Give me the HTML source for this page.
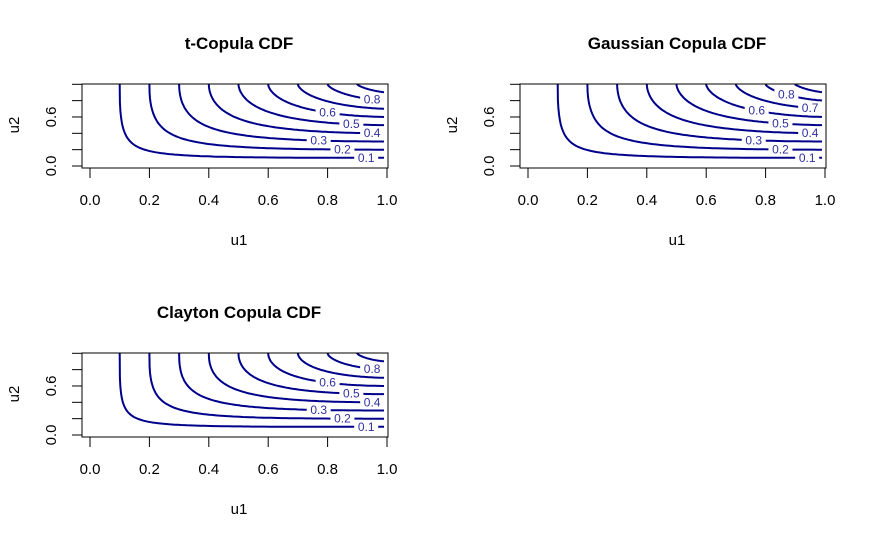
<!DOCTYPE html>
<html><head><meta charset="utf-8"><style>
body{margin:0;background:#fff}
svg{display:block;font-family:"Liberation Sans",Arial,sans-serif}
</style></head><body>
<svg id="chart" width="875" height="540"></svg>
<script>
const levels=[0.1,0.2,0.3,0.4,0.5,0.6,0.7,0.8,0.9];
const xTicks=[0,0.2,0.4,0.6,0.8,1.0];
const xTickLabels=["0.0","0.2","0.4","0.6","0.8","1.0"];
const yTicks=[0,0.2,0.4,0.6,0.8,1.0];
const yTickLabels=["0.0","","","0.6","",""];
const titles=["t-Copula CDF","Gaussian Copula CDF","Clayton Copula CDF"];
const rhos=[0.65,0.62,0.72];
const labelLevels1=[0.1,0.2,0.3,0.4,0.5,0.6,0.8];
const labelPos1=[0.93,0.85,0.77,0.95,0.88,0.80,0.95];
const labelLevels2=[0.1,0.2,0.3,0.4,0.5,0.6,0.7,0.8];
const labelPos2=[0.94,0.85,0.76,0.95,0.85,0.77,0.95,0.87];
const labelLevels3=[0.1,0.2,0.3,0.4,0.5,0.6,0.8];
const labelPos3=[0.93,0.85,0.77,0.95,0.88,0.80,0.95];
const panels=[
 {x0:90,y0:166,labels:labelLevels1,pos:labelPos1,name:"t-copula"},
 {x0:528,y0:166,labels:labelLevels2,pos:labelPos2,name:"gaussian-copula"},
 {x0:90,y0:435,labels:labelLevels3,pos:labelPos3,name:"clayton-copula"}];
const NS="http://www.w3.org/2000/svg";
const svg=document.getElementById('chart');
function mk(t,a,p){const e=document.createElementNS(NS,t);for(const k in a)e.setAttribute(k,a[k]);(p||svg).appendChild(e);return e;}
const W=297,H=81.7;
function Phi(x){const t=1/(1+0.2316419*Math.abs(x));const d=0.3989423*Math.exp(-x*x/2);let p=d*t*(0.3193815+t*(-0.3565638+t*(1.781478+t*(-1.821256+t*1.330274))));return x>0?1-p:p;}
function PhiInv(p){let lo=-8,hi=8;for(let i=0;i<50;i++){const m=(lo+hi)/2;if(Phi(m)<p)lo=m;else hi=m;}return (lo+hi)/2;}
function C(u,v,r){const a=PhiInv(u),b=PhiInv(v),s=Math.sqrt(1-r*r);const lo=-7,n=160,h=(a-lo)/n;let sum=0;for(let k=0;k<=n;k++){const x=lo+k*h;const w=(k==0||k==n)?0.5:1;sum+=w*Math.exp(-x*x/2)*0.3989423*Phi((b-r*x)/s);}return sum*h;}
function vOf(c,u,r){if(C(u,0.9995,r)<=c)return 1;let lo=0.001,hi=0.9995;for(let i=0;i<24;i++){const m=(lo+hi)/2;if(C(u,m,r)<c)lo=m;else hi=m;}return (lo+hi)/2;}
panels.forEach((p,i)=>{
 const g=mk('g',{});
 
 
 const sx=u=>p.x0+u*W, sy=v=>p.y0-v*H;
 const r=rhos[i];
 levels.forEach(c=>{
  let pts=[sx(c).toFixed(1)+','+sy(1).toFixed(1)];
  for(let k=1;k<=80;k++){const u=c+(0.99-c)*Math.pow(k/80,1.6);let v=vOf(c,u,r);if(v>1)v=1;pts.push(sx(u).toFixed(1)+','+sy(v).toFixed(1));}
  const l=mk('polyline',{points:pts.join(' '),fill:'none',stroke:'#00008B','stroke-width':2},g);
  
  
 });
 p.labels.forEach((c,j)=>{
  const u=p.pos[j],v=vOf(c,u,r);
  mk('rect',{x:sx(u)-12,y:sy(v)-6,width:24,height:12,fill:'#fff'},g);
  const t=mk('text',{x:sx(u),y:sy(v)+4,'text-anchor':'middle','font-size':12,fill:'#3030A0'},g);
  t.textContent=c.toFixed(1);
  
  
 });
 const box=mk('rect',{x:p.x0-8,y:p.y0-82,width:306,height:84,fill:'none',stroke:'#000','stroke-width':1},g);
 
 
 xTicks.forEach((u,j)=>{
  mk('line',{x1:sx(u),x2:sx(u),y1:p.y0+2,y2:p.y0+12,stroke:'#000'},g);
  const t=mk('text',{x:sx(u),y:p.y0+39,'text-anchor':'middle','font-size':15},g);
  t.textContent=xTickLabels[j];
  
  
 });
 yTicks.forEach((v,j)=>{
  mk('line',{x1:p.x0-18,x2:p.x0-8,y1:sy(v),y2:sy(v),stroke:'#000'},g);
  if(yTickLabels[j]){const t=mk('text',{x:0,y:0,'text-anchor':'middle','font-size':15,transform:`translate(${p.x0-34},${sy(v)}) rotate(-90)`},g);
  t.textContent=yTickLabels[j];
  
  }
 });
 const tt=mk('text',{x:p.x0+149,y:p.y0-117,'text-anchor':'middle','font-size':17,'font-weight':'bold'},g);
 tt.textContent=titles[i];
 
 
 const xl=mk('text',{x:p.x0+149,y:p.y0+79,'text-anchor':'middle','font-size':15},g);
 xl.textContent='u1';
 
 
 const yl=mk('text',{x:0,y:0,'text-anchor':'middle','font-size':15,transform:`translate(${p.x0-71},${p.y0-41}) rotate(-90)`},g);
 yl.textContent='u2';
 
 
});
</script>
</body></html>
